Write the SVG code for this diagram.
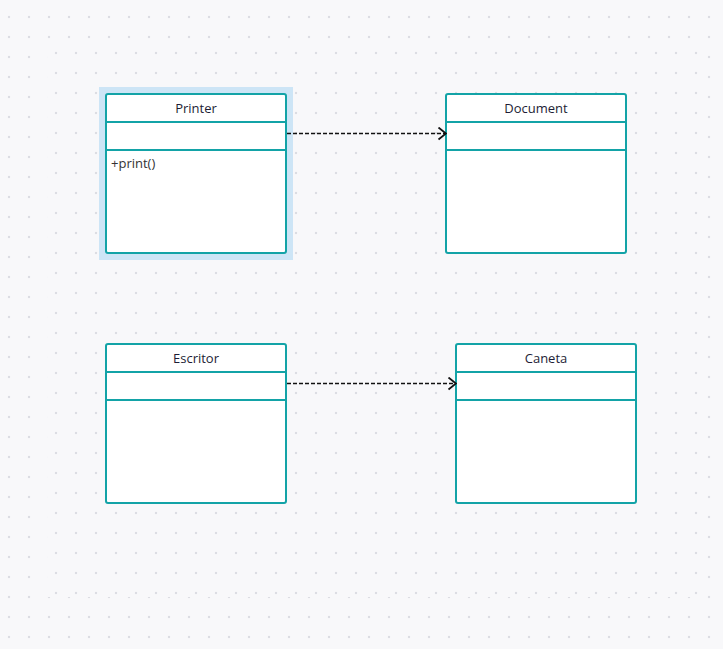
<svg xmlns="http://www.w3.org/2000/svg" width="723" height="649" viewBox="0 0 723 649">
  <defs>
    <pattern id="gridOuter" x="9" y="17" width="20" height="20" patternUnits="userSpaceOnUse">
      <circle cx="0" cy="0" r="1.2" fill="#dcdde3"/>
      <circle cx="20" cy="0" r="1.2" fill="#dcdde3"/>
      <circle cx="0" cy="20" r="1.2" fill="#dcdde3"/>
      <circle cx="20" cy="20" r="1.2" fill="#dcdde3"/>
    </pattern>
    <pattern id="gridInner" x="56" y="53" width="20" height="20" patternUnits="userSpaceOnUse">
      <circle cx="0" cy="0" r="1.2" fill="#dcdde3"/>
      <circle cx="20" cy="0" r="1.2" fill="#dcdde3"/>
      <circle cx="0" cy="20" r="1.2" fill="#dcdde3"/>
      <circle cx="20" cy="20" r="1.2" fill="#dcdde3"/>
    </pattern>
    <marker id="openArrow" viewBox="0 0 10 14" refX="9" refY="7" markerWidth="10" markerHeight="14" markerUnits="userSpaceOnUse" orient="auto">
      <path d="M1.5,1 L9,7 L1.5,13" fill="none" stroke="#111111" stroke-width="1.8"/>
    </marker>
  </defs>
  <style>
    .box { fill: #ffffff; stroke: #13a3a7; stroke-width: 2; }
    .sep { stroke: #13a3a7; stroke-width: 2; }
    .title { font-family: "Open Sans", "Noto Sans", sans-serif; font-size: 13px; fill: #1d1d35; text-anchor: middle; }
    .member { font-family: "Open Sans", "Noto Sans", sans-serif; font-size: 13px; fill: #333333; }
    .edge { fill: none; stroke: #111111; stroke-width: 1.6; stroke-dasharray: 4 2; }
  </style>
  <rect x="0" y="0" width="723" height="649" fill="#f8f8fa"/>
  <rect x="0" y="0" width="723" height="649" fill="url(#gridOuter)"/>
  <rect x="48" y="48" width="657" height="549" fill="#f8f8fa"/>
  <rect x="48" y="48" width="657" height="549" fill="url(#gridInner)"/>

  <g id="node-printer">
    <rect x="99" y="87" width="194" height="173" fill="#cde5f6"/>
    <rect class="box" x="106" y="94" width="180" height="159" rx="2"/>
    <line class="sep" x1="106" y1="122" x2="286" y2="122"/>
    <line class="sep" x1="106" y1="150" x2="286" y2="150"/>
    <text class="title" x="196" y="113">Printer</text>
    <text class="member" x="111" y="168">+print()</text>
  </g>

  <g id="node-document">
    <rect class="box" x="446" y="94" width="180" height="159" rx="2"/>
    <line class="sep" x1="446" y1="122" x2="626" y2="122"/>
    <line class="sep" x1="446" y1="150" x2="626" y2="150"/>
    <text class="title" x="536" y="113">Document</text>
  </g>

  <g id="node-escritor">
    <rect class="box" x="106" y="344" width="180" height="159" rx="2"/>
    <line class="sep" x1="106" y1="372" x2="286" y2="372"/>
    <line class="sep" x1="106" y1="400" x2="286" y2="400"/>
    <text class="title" x="196" y="363">Escritor</text>
  </g>

  <g id="node-caneta">
    <rect class="box" x="456" y="344" width="180" height="159" rx="2"/>
    <line class="sep" x1="456" y1="372" x2="636" y2="372"/>
    <line class="sep" x1="456" y1="400" x2="636" y2="400"/>
    <text class="title" x="546" y="363">Caneta</text>
  </g>

  <g id="connectors">
    <path class="edge" d="M287,133.5 L446,133.5" marker-end="url(#openArrow)"/>
    <path class="edge" d="M287,383.5 L456,383.5" marker-end="url(#openArrow)"/>
  </g>
</svg>
